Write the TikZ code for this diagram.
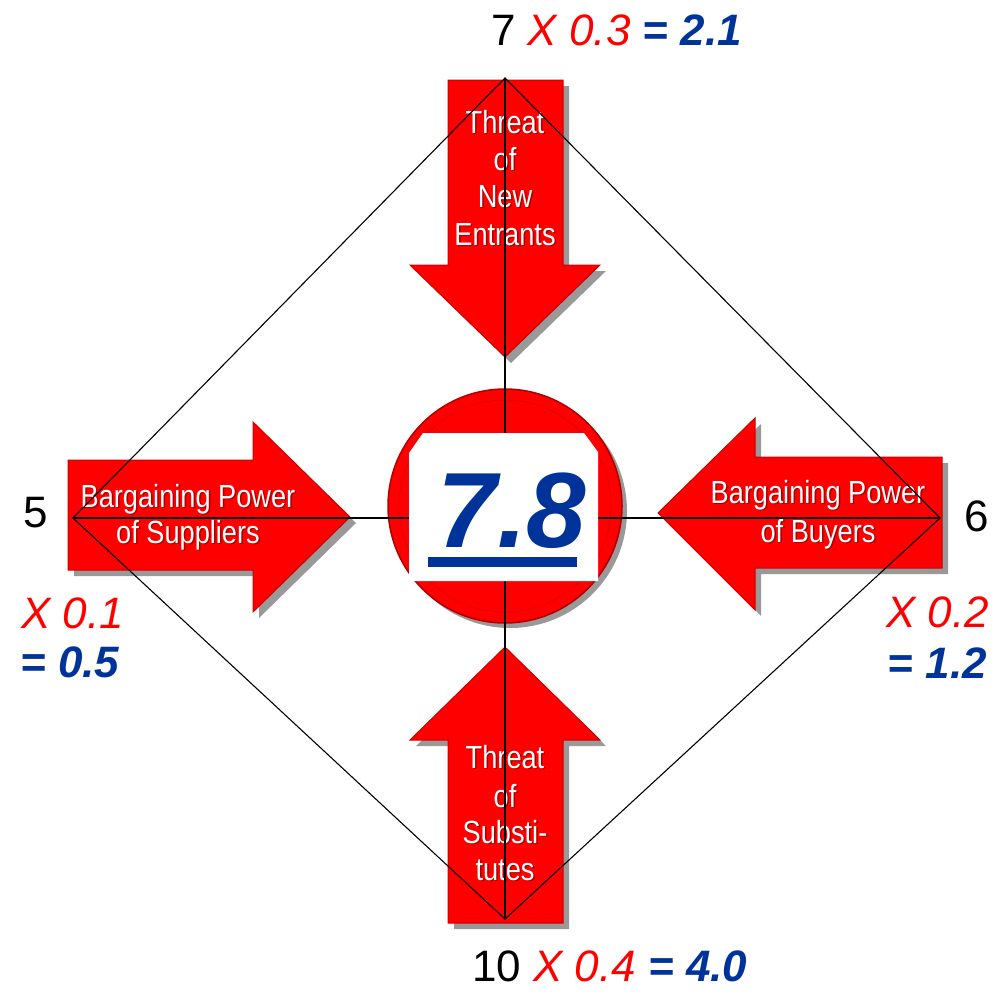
\documentclass[tikz,border=0pt]{standalone}
\usepackage{fontspec}
\setmainfont{Liberation Sans}
\newfontfamily\arrfont[FakeStretch=0.85]{Liberation Sans}
\usetikzlibrary{shadows}
\definecolor{arrred}{RGB}{255,0,0}
\definecolor{arrdark}{RGB}{140,0,0}
\definecolor{numblue}{RGB}{0,51,153}
\definecolor{numred}{RGB}{255,0,0}
\begin{document}
\begin{tikzpicture}[x=1pt,y=-1pt,
  bigarrow/.style={fill=arrred, draw=arrred!80!black, line width=1pt,
    drop shadow={shadow xshift=6pt, shadow yshift=-6pt, opacity=0.4, fill=black}},
  arrtxt/.style={font=\arrfont\fontsize{32}{38}\selectfont, text=white, inner sep=0pt, anchor=base},
  arrsh/.style={arrtxt, text=arrdark, text opacity=0.75, xshift=1.5pt, yshift=-1.5pt},
  lab/.style={font=\fontsize{44}{50}\selectfont, inner sep=0pt},
  guide/.style={draw=black, line width=1.1pt}
]
\useasboundingbox (0,0) rectangle (1003,991);

% arrows
\path[bigarrow] (448,80) -- (563,80) -- (563,265) -- (600,265) -- (505,357) -- (410,265) -- (448,265) -- cycle;
\path[bigarrow] (505,647) -- (600,740) -- (563,740) -- (563,923) -- (448,923) -- (448,740) -- (410,740) -- cycle;
\path[bigarrow] (68,460) -- (253,460) -- (253,422) -- (350,517) -- (253,612) -- (253,570) -- (68,570) -- cycle;
\path[bigarrow] (942,457) -- (755,457) -- (755,418) -- (658,513) -- (755,610) -- (755,568) -- (942,568) -- cycle;

% arrow texts
\foreach \t/\y [count=\i] in {Threat/133, of/170, New/207, Entrants/245} {
  \node[arrsh] (tns\i) at (505,\y) {\t};
  \node[arrtxt] (tn\i) at (505,\y) {\t};
}
\foreach \t/\y [count=\i] in {Threat/768, of/807, Substi-/843, tutes/880} {
  \node[arrsh] (tss\i) at (505,\y) {\t};
  \node[arrtxt] (ts\i) at (505,\y) {\t};
}
\foreach \t/\y [count=\i] in {Bargaining Power/507, of Suppliers/543} {
  \node[arrsh] (bss\i) at (188,\y) {\t};
  \node[arrtxt] (bs\i) at (188,\y) {\t};
}
\foreach \t/\y [count=\i] in {Bargaining Power/503, of Buyers/542} {
  \node[arrsh] (bbs\i) at (818,\y) {\t};
  \node[arrtxt] (bb\i) at (818,\y) {\t};
}

% central circle
\node[circle, minimum size=234pt, inner sep=0pt, fill=arrred, draw=arrred!70!black, line width=1.5pt,
  drop shadow={shadow xshift=5pt, shadow yshift=-5pt, opacity=0.4, fill=black}] (hub) at (505,506) {};
\draw[arrred!80!black, line width=0.8pt, opacity=0.5] (hub.center) circle[radius=106pt];

% guide lines
\coordinate (T) at (505,78);
\coordinate (B) at (505,919);
\coordinate (L) at (73,518);
\coordinate (R) at (940,518);
\draw[guide] (T) -- (B);
\draw[guide] (L) -- (R);
\draw[guide] (T) -- (R) -- (B) -- (L) -- cycle;

% white score box
\fill[white] (423,433) -- (584,433) -- (598,452) -- (598,581) -- (409,581) -- (409,453) -- cycle;
\node[font=\bfseries\itshape\fontsize{107}{110}\selectfont, text=numblue, anchor=base, inner sep=0pt] (score) at (512,547) {7.8};
\fill[numblue] (428,557) rectangle (577,567);

% labels
\node[lab, anchor=base west] (topl) at (491,45) {7 \textcolor{numred}{\itshape X 0.3} \textcolor{numblue}{\bfseries\itshape = 2.1}};
\node[lab, anchor=base west] (botl) at (472,981) {10 \textcolor{numred}{\itshape X 0.4} \textcolor{numblue}{\bfseries\itshape = 4.0}};
\node[lab, anchor=base west] (five) at (23,527) {5};
\node[lab, anchor=base west, text=numred] (lx) at (21,628) {\itshape X 0.1};
\node[lab, anchor=base west, text=numblue] (lr) at (20,677) {\bfseries\itshape = 0.5};
\node[lab, anchor=base east] (six) at (989,531) {6};
\node[lab, anchor=base east, text=numred] (rx) at (989,627) {\itshape X 0.2};
\node[lab, anchor=base east, text=numblue] (rr) at (987,678) {\bfseries\itshape = 1.2};
\end{tikzpicture}
\end{document}
